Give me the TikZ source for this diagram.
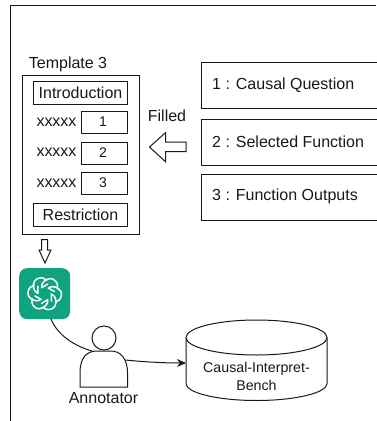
\documentclass[tikz,border=0pt]{standalone}
\usepackage{fontspec}
\setmainfont{Liberation Sans}
\usetikzlibrary{arrows.meta,shapes.geometric}
\definecolor{gptgreen}{RGB}{16,163,127}
\definecolor{ink}{RGB}{25,25,25}
\tikzset{
  x=1pt,y=-1pt,
  line/.style={draw=ink,line width=1pt},
  box/.style={line,rectangle,inner sep=0pt,anchor=north west},
  txt/.style={font=\fontsize{16}{18}\selectfont,text=ink,inner sep=0pt},
  digit/.style={font=\fontsize{14}{16}\selectfont,text=ink,inner sep=0pt,anchor=base},
  xrow/.style={font=\fontsize{16}{18}\selectfont,text=ink,inner sep=0pt,anchor=base},
  headbox/.style={box,txt,draw=ink,minimum width=94pt,minimum height=23pt},
  slot/.style={box,minimum width=46.5pt,minimum height=22.6pt},
  infobox/.style={box,minimum width=190pt,minimum height=45.5pt},
  bigarrow/.style={line,fill=white,line join=miter},
  link/.style={line,line width=1pt},
  petal/.style={white,line width=1.5pt,line cap=round,line join=round}
}
\begin{document}
\begin{tikzpicture}
\useasboundingbox (0,0) rectangle (376,421);
\fill[white] (0,0) rectangle (376,421);
\coordinate (ltop) at (10,5);
\coordinate (lbot) at (10,421);
\coordinate (rtop) at (376,5);
\draw[line] (lbot) -- (ltop) -- (rtop);
\node[txt] (ttl) at (68,64) {Template 3};
\node[box,minimum width=117.5pt,minimum height=159pt] (tmpl) at (21.5,75) {};
\node[headbox] (intro) at (33,81) {Introduction};
\node[slot] (b1) at (80.7,110.7) {};
\node[slot] (b2) at (80.7,141.7) {};
\node[slot] (b3) at (80.7,171.7) {};
\node[digit] at (103,126.5) {1};
\node[digit] at (103,157) {2};
\node[digit] at (103,187) {3};
\node[xrow] (x1) at (56.5,126.5) {xxxxx};
\node[xrow] (x2) at (56.5,156.5) {xxxxx};
\node[xrow] (x3) at (56.5,187.5) {xxxxx};
\node[headbox] (restr) at (33,202.5) {Restriction};
\node[txt] (filled) at (167,116) {Filled};
\draw[bigarrow] (149.5,147) -- (165.5,132.7) -- (165.5,142) -- (186,142) -- (186,151.7) -- (165.5,151.7) -- (165.5,161.7) -- cycle;
\node[infobox] (q1) at (200.5,62) {};
\node[infobox] (q2) at (200.5,119) {};
\node[infobox] (q3) at (200.5,174) {};
\node[txt,anchor=west] at (212,85) {1 : Causal Question};
\node[txt,anchor=west] at (212,142) {2 : Selected Function};
\node[txt,anchor=west] at (212,196) {3 : Function Outputs};
\draw[bigarrow] (41.7,239.5) -- (47.7,239.5) -- (47.7,250) -- (51,250) -- (45,263) -- (39,250) -- (41.7,250) -- cycle;
% chat logo
\node[rectangle,rounded corners=8pt,fill=gptgreen,minimum width=51pt,minimum height=51pt,inner sep=0pt,anchor=north west] (gpt) at (19,268) {};
\begin{scope}[shift={(gpt.center)},scale=1.2]
\foreach \a in {0,60,...,300}{
  \draw[petal,rotate=\a]
    (-2.5,-5) .. controls (-3,-11) and (4,-15) .. (8.5,-11)
    .. controls (11,-9) and (11,-6) .. (10.5,-4);
  \draw[petal,rotate=\a] (-2.5,-5) -- (2.5,-8);
}
\end{scope}
% person
\node[circle,line,fill=white,minimum size=24pt,inner sep=0pt] (head) at (104,338) {};
\coordinate (bl) at (80,387);
\coordinate (br) at (127.5,387);
\draw[link] (51,319) .. controls (58,336) and (75,346) .. (92,351);
\draw[line,fill=white] (bl) -- (80,373) .. controls (80,356) and (88,351) .. (97,351) -- (111,351) .. controls (120,351) and (127.5,358) .. (127.5,373) -- (br) -- cycle;
\node[txt] (ann) at (103.5,398) {Annotator};
\coordinate (pr) at (125,360);
% database
\draw[line,fill=white] (186,337.5) -- (186,383.5) .. controls (186,393) and (218,400.5) .. (256.5,400.5) .. controls (295,400.5) and (327,393) .. (327,383.5) -- (327,337.5);
\draw[line,fill=white] (256.5,337.5) ellipse [x radius=70.5, y radius=17.5];
\node[txt,font=\fontsize{14.2}{18}\selectfont,align=center] (db) at (256.5,376) {Causal-Interpret-\\Bench};
\coordinate (dbl) at (186,363);
\draw[link,-{Stealth[length=9pt,width=8pt]}] (pr) .. controls (145,362) and (165,363) .. (dbl);
\end{tikzpicture}
\end{document}
